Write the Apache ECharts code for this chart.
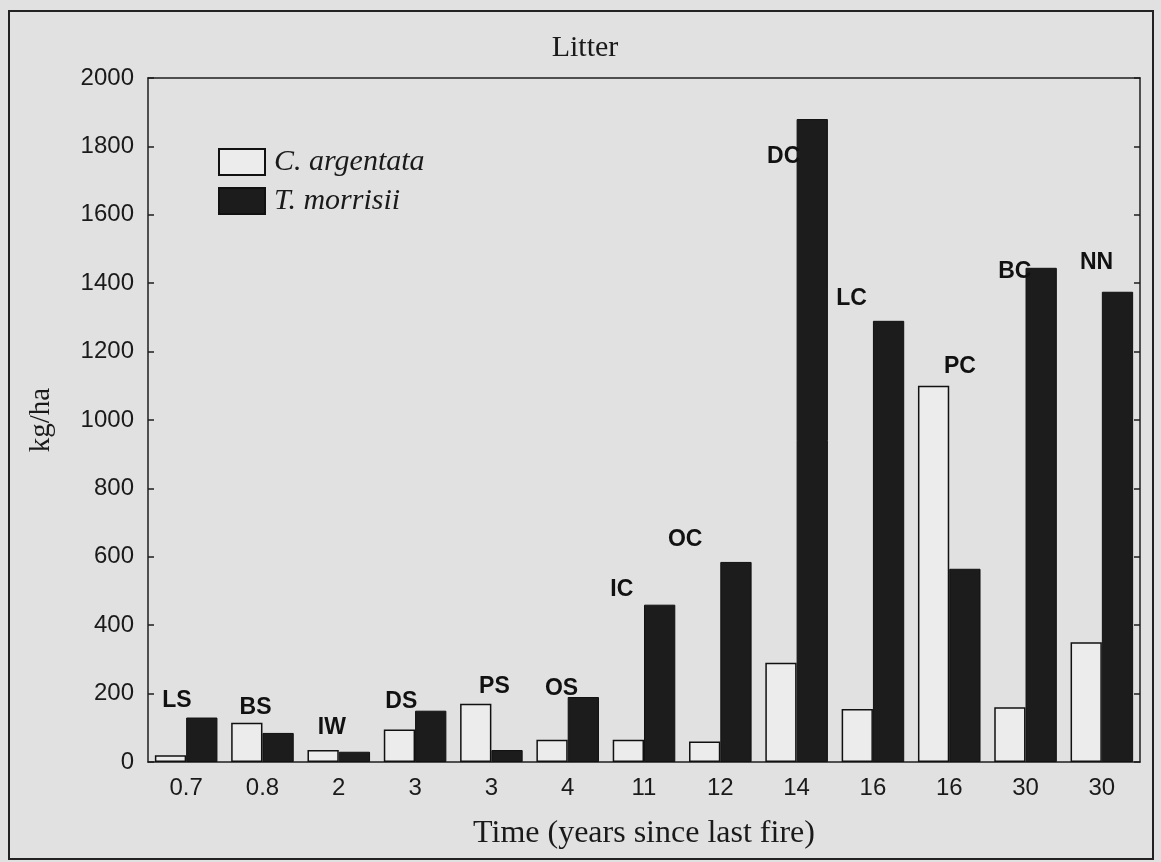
<!DOCTYPE html>
<html>
<head>
<meta charset="utf-8">
<script src="https://cdn.jsdelivr.net/npm/echarts@6/dist/echarts.min.js"></script>
<style>
  html, body { margin: 0; padding: 0; background: #e1e1e1; }
  #chart { width: 1161px; height: 862px; }
</style>
</head>
<body>
<div id="chart"></div>
<script>
// Data
var timeLabels = ['0.7', '0.8', '2', '3', '3', '4', '11', '12', '14', '16', '16', '30', '30'];
var siteLabels = ['LS', 'BS', 'IW', 'DS', 'PS', 'OS', 'IC', 'OC', 'DC', 'LC', 'PC', 'BC', 'NN'];
var cArgentata = [20, 115, 35, 95, 170, 65, 65, 60, 290, 155, 1100, 160, 350];
var tMorrisii = [130, 85, 30, 150, 35, 190, 460, 585, 1880, 1290, 565, 1445, 1375];
// Site-label anchors in data units (category index, kg/ha)
var siteLabelX = [-0.12, 0.91, 1.91, 2.82, 4.04, 4.92, 5.71, 6.54, 7.83, 8.72, 10.14, 10.86, 11.93];
var siteLabelY = [180, 160, 100, 175, 220, 215, 505, 650, 1770, 1355, 1155, 1435, 1460];
var yTicks = { min: 0, max: 2000, interval: 200 };

var serif = '"Liberation Serif", "Times New Roman", serif';
var sans = '"Liberation Sans", Arial, sans-serif';
var lineColor = '#1e1e1e';

var labelPoints = siteLabels.map(function (s, i) { return [siteLabelX[i], siteLabelY[i]]; });

var chart = echarts.init(document.getElementById('chart'));
chart.setOption({
  backgroundColor: '#e1e1e1',
  animation: false,
  title: {
    text: 'Litter',
    left: 580,
    top: 28,
    textAlign: 'center',
    textStyle: { fontFamily: serif, fontSize: 30, fontWeight: 'normal', color: '#1a1a1a' }
  },
  legend: {
    orient: 'vertical',
    left: 213,
    top: 142,
    itemWidth: 46,
    itemHeight: 26,
    itemGap: 9,
    icon: 'rect',
    data: ['C. argentata', 'T. morrisii'],
    textStyle: { fontFamily: serif, fontStyle: 'italic', fontSize: 30, color: '#1a1a1a', lineHeight: 26, padding: [0, 0, 0, 4] }
  },
  grid: { left: 148, right: 21, top: 78, bottom: 100, containLabel: false },
  xAxis: [
    {
      type: 'category',
      data: timeLabels,
      position: 'bottom',
      name: 'Time (years since last fire)',
      nameLocation: 'middle',
      nameGap: 56,
      nameTextStyle: { fontFamily: serif, fontSize: 32, color: '#1a1a1a' },
      axisLine: { onZero: false, lineStyle: { color: lineColor, width: 1.5 } },
      axisTick: { inside: true, length: 6, alignWithLabel: false, lineStyle: { color: lineColor, width: 1.5 } },
      axisLabel: { fontFamily: sans, fontSize: 24, color: '#1a1a1a', margin: 14, interval: 0 },
      splitLine: { show: false }
    },
    {
      type: 'category',
      data: timeLabels,
      position: 'top',
      axisLine: { onZero: false, lineStyle: { color: lineColor, width: 1.5 } },
      axisTick: { inside: true, length: 6, alignWithLabel: false, lineStyle: { color: lineColor, width: 1.5 } },
      axisLabel: { show: false },
      splitLine: { show: false }
    },
    {
      type: 'value',
      min: -0.5,
      max: timeLabels.length - 0.5,
      show: false,
      axisLine: { show: false, onZero: false },
      splitLine: { show: false }
    }
  ],
  yAxis: [
    {
      type: 'value',
      min: yTicks.min,
      max: yTicks.max,
      interval: yTicks.interval,
      position: 'left',
      name: 'kg/ha',
      nameLocation: 'middle',
      nameGap: 92,
      nameRotate: 90,
      nameTextStyle: { fontFamily: serif, fontSize: 29, color: '#1a1a1a' },
      axisLine: { show: true, onZero: false, lineStyle: { color: lineColor, width: 1.5 } },
      axisTick: { show: true, inside: true, length: 6, lineStyle: { color: lineColor, width: 1.5 } },
      axisLabel: { fontFamily: sans, fontSize: 24, color: '#1a1a1a', margin: 14, formatter: function (v) { return String(v); } },
      splitLine: { show: false }
    },
    {
      type: 'value',
      min: yTicks.min,
      max: yTicks.max,
      interval: yTicks.interval,
      position: 'right',
      axisLine: { show: true, onZero: false, lineStyle: { color: lineColor, width: 1.5 } },
      axisTick: { show: true, inside: true, length: 6, lineStyle: { color: lineColor, width: 1.5 } },
      axisLabel: { show: false },
      splitLine: { show: false }
    }
  ],
  series: [
    {
      name: 'C. argentata',
      type: 'bar',
      data: cArgentata,
      barGap: '0%',
      barCategoryGap: '18%',
      itemStyle: { color: '#ececec', borderColor: '#111', borderWidth: 1.5 }
    },
    {
      name: 'T. morrisii',
      type: 'bar',
      data: tMorrisii,
      barGap: '0%',
      barCategoryGap: '18%',
      itemStyle: { color: '#1c1c1c', borderColor: '#111', borderWidth: 1 }
    },
    {
      name: 'sites',
      type: 'scatter',
      xAxisIndex: 2,
      yAxisIndex: 0,
      data: labelPoints,
      symbolSize: 1,
      itemStyle: { opacity: 0 },
      silent: true,
      z: 10,
      label: {
        show: true,
        position: 'inside',
        formatter: function (p) { return siteLabels[p.dataIndex]; },
        fontFamily: sans,
        fontWeight: 'bold',
        fontSize: 23,
        color: '#111',
        opacity: 1
      }
    }
  ],
  graphic: [
    {
      type: 'rect',
      shape: { x: 9, y: 11, width: 1144, height: 848 },
      style: { fill: 'none', stroke: '#222', lineWidth: 2 },
      silent: true
    }
  ]
});
</script>
</body>
</html>
